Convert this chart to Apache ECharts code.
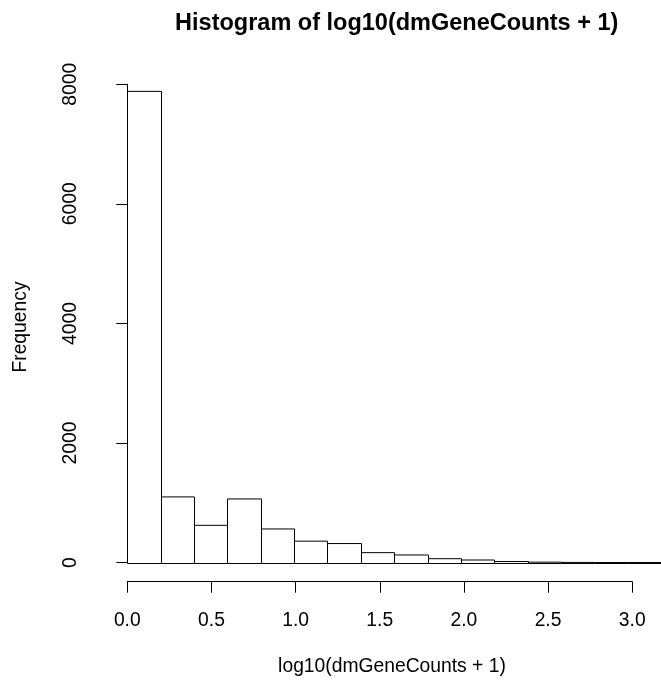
<!DOCTYPE html>
<html>
<head>
<meta charset="utf-8">
<script src="https://cdn.jsdelivr.net/npm/echarts@6/dist/echarts.min.js"></script>
<style>
  html, body { margin: 0; padding: 0; background: #fff; }
  #chart { width: 661px; height: 683px; }
</style>
</head>
<body>
<div id="chart"></div>
<script>
// histogram bins (log10 scale), width 0.2
const binEdges = [0.0, 0.2, 0.4, 0.6, 0.8, 1.0, 1.2, 1.4, 1.6, 1.8, 2.0, 2.2, 2.4, 2.6, 2.8, 3.0, 3.2];
const counts = [7880, 1100, 625, 1066, 564, 360, 320, 168, 129, 67, 45, 20, 9, 5, 3, 4];
const xTickRange = [0, 3, 0.5];     // min, max, step of the drawn x axis
const yTickRange = [0, 8000, 2000];

const titleText = "Histogram of log10(dmGeneCounts + 1)";
const xName = "log10(dmGeneCounts + 1)";
const yName = "Frequency";

const FONT = '"Liberation Sans", Arial, sans-serif';
const pxPerUnit = 168.3;   // x scale
const plotLeft = 127.3;

const bins = counts.map((c, i) => [binEdges[i], binEdges[i + 1], c]);

const chart = echarts.init(document.getElementById("chart"), null, { renderer: "canvas" });

const option = {
    animation: false,
    backgroundColor: "#fff",
    grid: [
        // bars
        { left: plotLeft, top: 84.2, height: 478.5, width: (binEdges[binEdges.length - 1] - binEdges[0]) * pxPerUnit },
        // x axis only, line runs 0..3
        { left: plotLeft, top: 84.2, height: 497.5, width: (xTickRange[1] - xTickRange[0]) * pxPerUnit },
    ],
    xAxis: [
        {
            gridIndex: 0, type: "value",
            min: binEdges[0], max: binEdges[binEdges.length - 1],
            show: false,
        },
        {
            gridIndex: 1, type: "value",
            min: xTickRange[0], max: xTickRange[1], interval: xTickRange[2],
            axisLine: { show: true, lineStyle: { color: "#000", width: 1 } },
            axisTick: { show: true, inside: false, length: 11, lineStyle: { color: "#000", width: 1 } },
            axisLabel: {
                color: "#000", fontFamily: FONT, fontSize: 19.3, margin: 29,
                formatter: (v) => v.toFixed(1),
            },
            splitLine: { show: false },
        },
    ],
    yAxis: [
        {
            gridIndex: 0, type: "value",
            min: yTickRange[0], max: yTickRange[1], interval: yTickRange[2],
            offset: 21.5,
            axisLine: { show: true, lineStyle: { color: "#000", width: 1 } },
            axisTick: { show: true, inside: false, length: 11, lineStyle: { color: "#000", width: 1 } },
            axisLabel: {
                color: "#000", fontFamily: FONT, fontSize: 19.3, margin: 26, rotate: 90,
                formatter: (v) => String(v),
            },
            splitLine: { show: false },
        },
        { gridIndex: 1, type: "value", show: false, min: 0, max: 1 },
    ],
    graphic: [
        {
            type: "text", x: 396.7, y: 23.5,
            style: { text: titleText, font: "bold 23.5px " + FONT, fill: "#000", align: "center", verticalAlign: "middle" },
        },
        {
            type: "text", x: 392, y: 667,
            style: { text: xName, font: "19.3px " + FONT, fill: "#000", align: "center", verticalAlign: "middle" },
        },
        {
            type: "text", x: 21, y: 327, rotation: Math.PI / 2,
            style: { text: yName, font: "19.3px " + FONT, fill: "#000", align: "center", verticalAlign: "middle" },
        },
    ],
    series: [
        {
            type: "custom",
            xAxisIndex: 0, yAxisIndex: 0,
            clip: false,
            data: bins,
            encode: { x: [0, 1], y: 2 },
            renderItem: function (params, api) {
                const top = api.coord([api.value(0), api.value(2)]);
                const bottom = api.coord([api.value(1), 0]);
                const x0 = Math.round(top[0]) + 0.5;
                const x1 = Math.round(bottom[0]) + 0.5;
                const y1 = Math.round(bottom[1]) + 0.5;
                const y0 = Math.min(top[1], y1 - 0.6);
                return {
                    type: "rect",
                    shape: { x: x0, y: y0, width: x1 - x0, height: y1 - y0 },
                    style: { fill: "#fff", stroke: "#000", lineWidth: 1 },
                };
            },
        },
    ],
};

chart.setOption(option);
</script>
</body>
</html>
